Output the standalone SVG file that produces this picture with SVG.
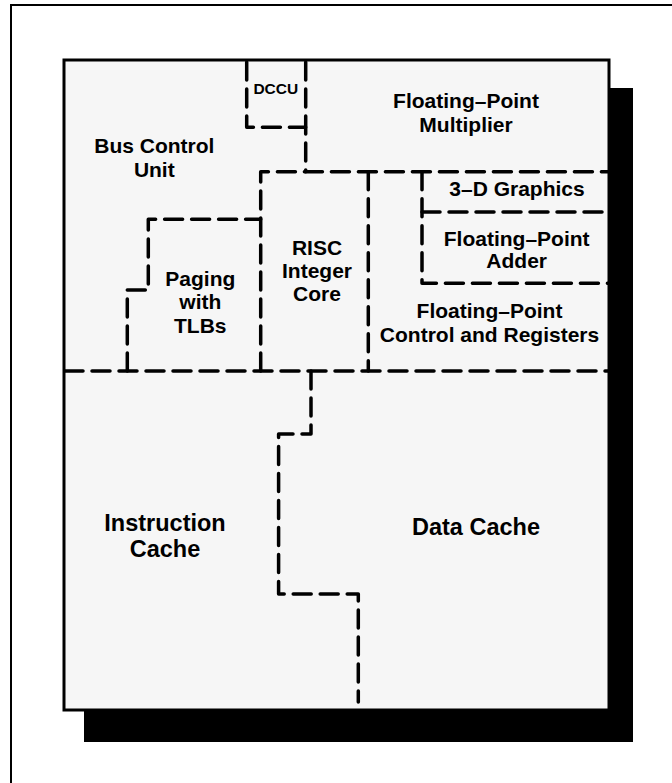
<svg xmlns="http://www.w3.org/2000/svg" width="672" height="783" viewBox="0 0 672 783">
  <style>
    .t { font-family: "Liberation Sans", Arial, sans-serif; font-weight: bold; font-size: 21px; fill: #000; text-anchor: middle; }
    .big { font-size: 23.5px; }
    .small { font-size: 15.5px; }
    .d { fill: none; stroke: #000; stroke-width: 3.5; stroke-dasharray: 18 9; stroke-linecap: round; stroke-linejoin: round; }
  </style>
  <rect x="0" y="0" width="672" height="783" fill="#fff"/>
  <rect id="frame" x="11" y="5" width="700" height="800" fill="none" stroke="#000" stroke-width="2"/>
  <rect id="shadow" x="84" y="88" width="549" height="654" fill="#000"/>
  <rect id="chip" x="64" y="60" width="545" height="650" fill="#f6f6f6" stroke="#000" stroke-width="3"/>

  <g id="connectors">
    <path class="d" d="M246.7,62 V127.3 H305.7"/>
    <path class="d" d="M305.7,62 V171.7"/>
    <path class="d" d="M260.7,371 V171.7 H608"/>
    <path class="d" d="M368.3,171.7 V371"/>
    <path class="d" d="M422,171.7 V283.3 H608"/>
    <path class="d" d="M422,212 H608"/>
    <path class="d" d="M127.3,371 V290 H148.3 V219.3 H260.7"/>
    <path class="d" d="M65,371 H608"/>
    <path class="d" d="M311,371 V434 H278.6 V594 H358.3 V702"/>
  </g>

  <g id="dccu"><text class="t small" x="275.8" y="94">DCCU</text></g>
  <g id="fp-multiplier">
    <text class="t" x="466" y="108.3">Floating–Point</text>
    <text class="t" x="466" y="131.7">Multiplier</text>
  </g>
  <g id="bus-control-unit">
    <text class="t" x="154.3" y="153.3">Bus Control</text>
    <text class="t" x="154.3" y="177.3">Unit</text>
  </g>
  <g id="graphics-3d"><text class="t" x="517" y="195.5">3–D Graphics</text></g>
  <g id="fp-adder">
    <text class="t" x="516.7" y="246">Floating–Point</text>
    <text class="t" x="516.7" y="268.3">Adder</text>
  </g>
  <g id="fp-control">
    <text class="t" x="489.5" y="318.3">Floating–Point</text>
    <text class="t" x="489.5" y="341.7">Control and Registers</text>
  </g>
  <g id="risc-core">
    <text class="t" x="317" y="255">RISC</text>
    <text class="t" x="317" y="278">Integer</text>
    <text class="t" x="317" y="301">Core</text>
  </g>
  <g id="paging">
    <text class="t" x="200.3" y="286">Paging</text>
    <text class="t" x="200.3" y="309">with</text>
    <text class="t" x="200.3" y="332.5">TLBs</text>
  </g>
  <g id="instruction-cache">
    <text class="t big" x="165" y="531">Instruction</text>
    <text class="t big" x="165" y="556.7">Cache</text>
  </g>
  <g id="data-cache"><text class="t big" x="476" y="535">Data Cache</text></g>
</svg>
